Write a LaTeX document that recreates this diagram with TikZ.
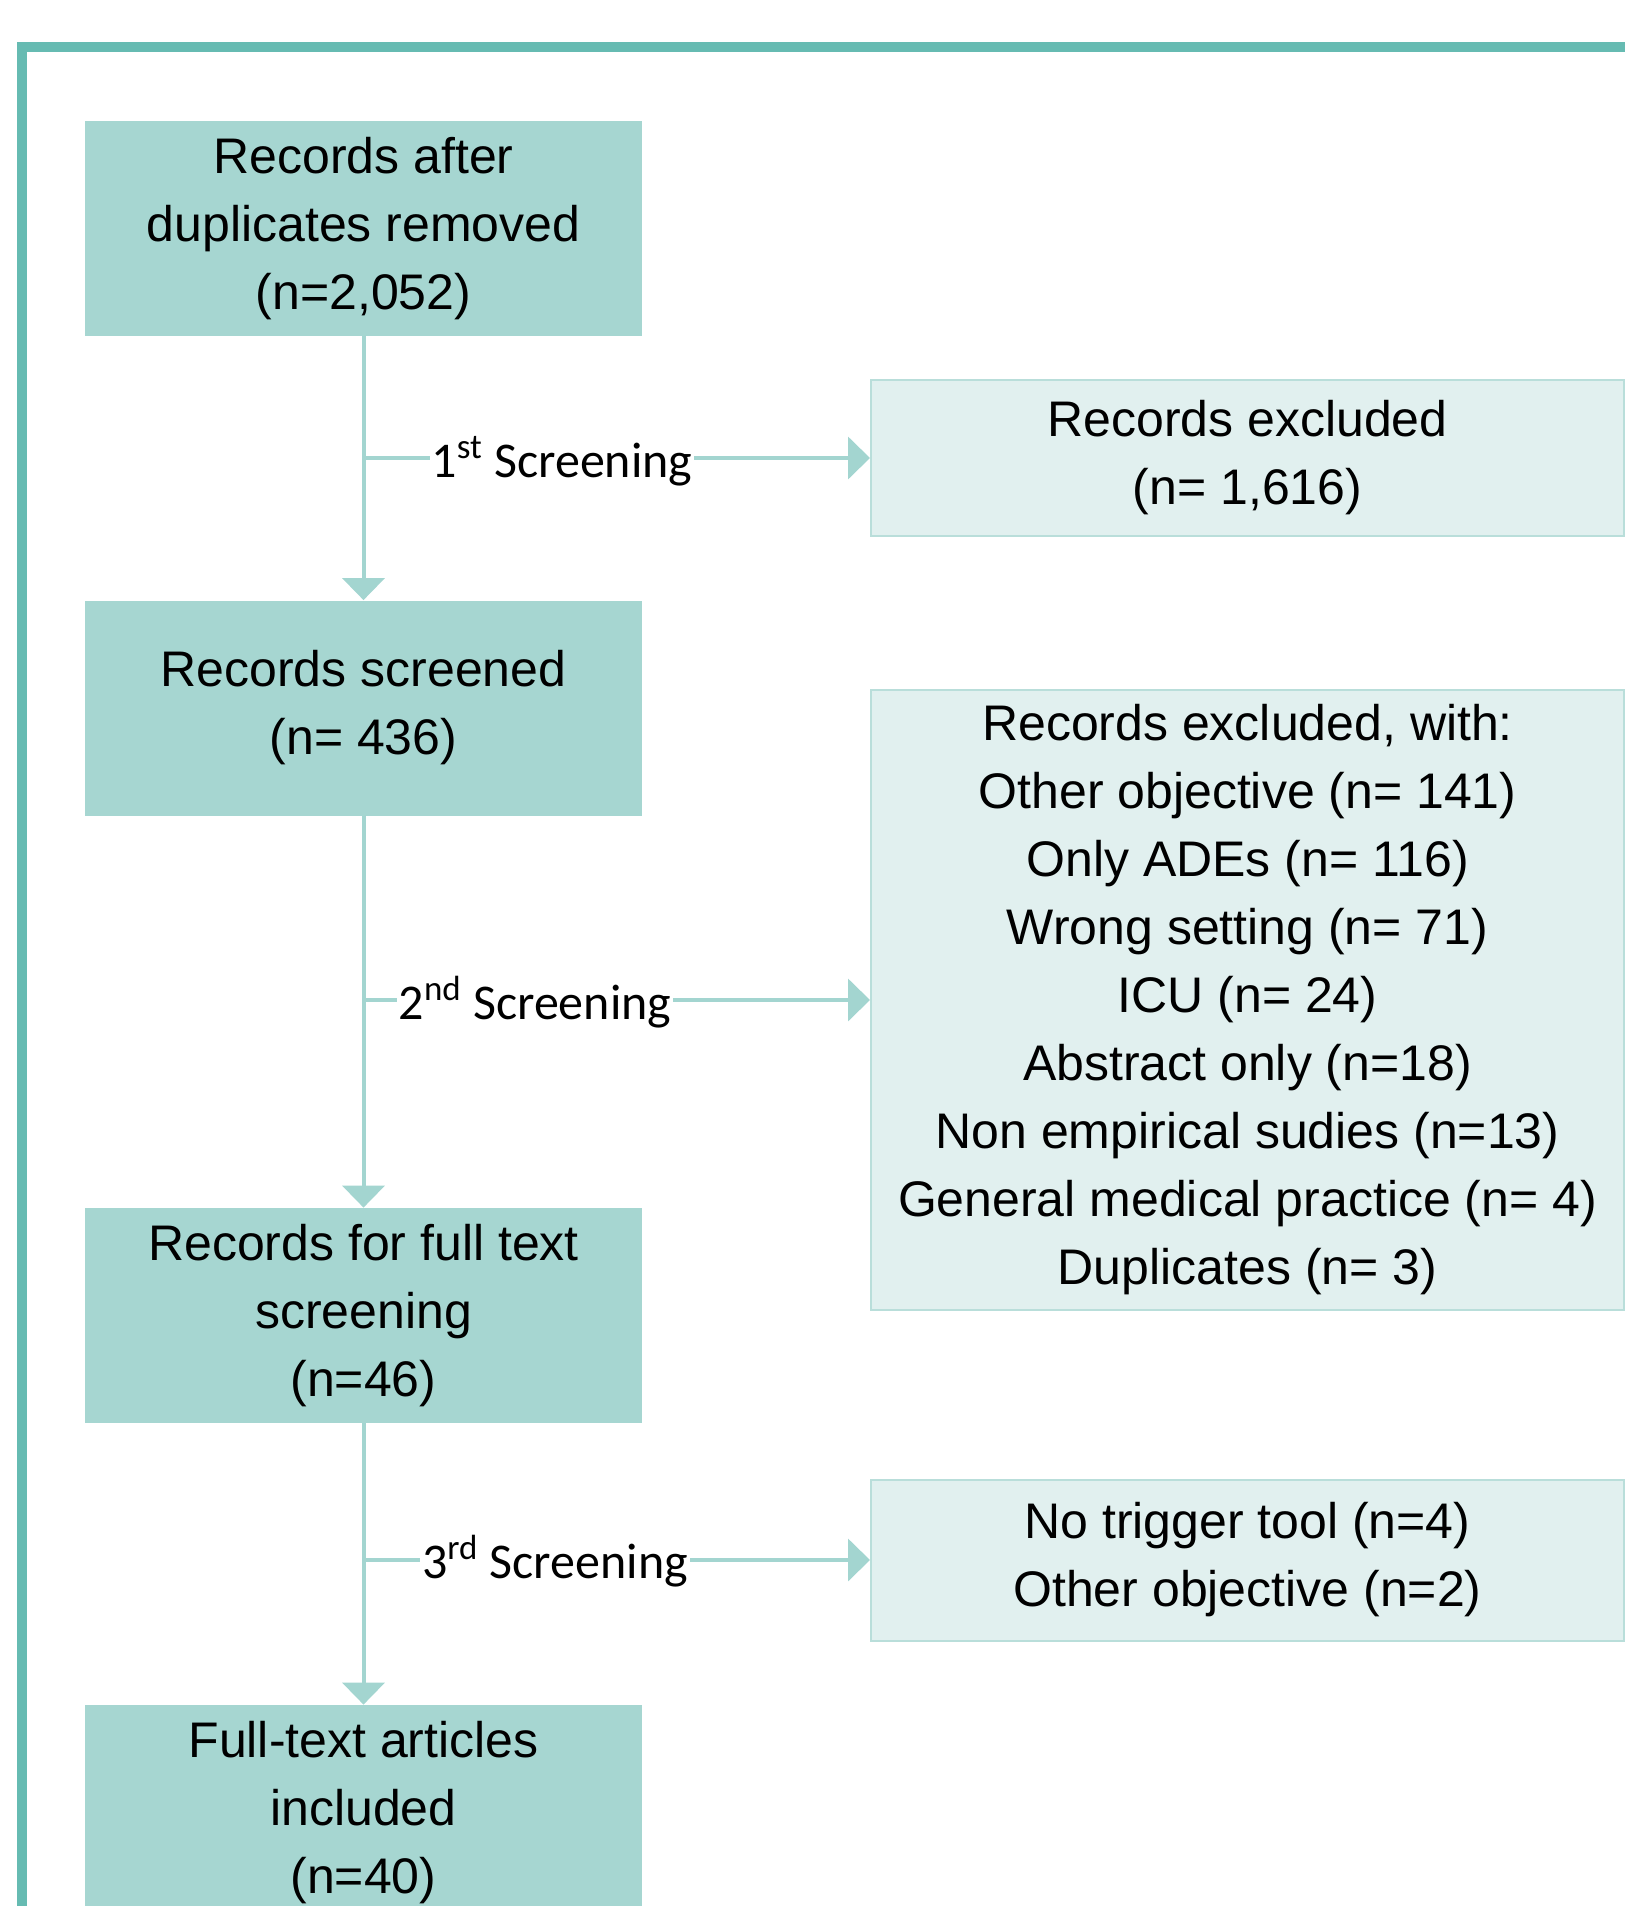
\documentclass[tikz,border=0pt]{standalone}
\usepackage{fontspec}
\setmainfont{Liberation Sans}
\newfontfamily\labfont{Carlito}
\usetikzlibrary{arrows.meta}
\definecolor{frameC}{HTML}{66BBB2}
\definecolor{darkbox}{HTML}{A6D6D1}
\definecolor{lightbox}{HTML}{E1F0EF}
\definecolor{lightborder}{HTML}{B9DEDA}
\definecolor{arrowC}{HTML}{A3D5D0}
\begin{document}
\begin{tikzpicture}[x=0.5pt,y=-0.5pt,
  mainbox/.style={fill=darkbox, draw=none, minimum width=278.5pt, minimum height=107.5pt,
    align=center, font=\fontsize{25}{34}\selectfont, inner sep=0pt},
  sidebox/.style={fill=lightbox, draw=lightborder, line width=1pt, minimum width=376.5pt,
    align=center, font=\fontsize{25}{34}\selectfont, inner sep=0pt},
  flowline/.style={draw=arrowC, line width=2pt},
  flowarrow/.style={flowline, -{Triangle[width=21pt,length=11pt]}},
  screenlab/.style={fill=white, inner xsep=1pt, inner ysep=2pt, anchor=base,
    font=\labfont\fontsize{25}{30}\selectfont}
]
\useasboundingbox (0,0) rectangle (1625,1906);
\clip (0,0) rectangle (1625,1906);
\fill[white] (0,0) rectangle (1625,1906);
% frame
\draw[frameC, line width=5pt] (22,2300) -- (22,47) -- (1900,47);

% main boxes
\node[mainbox] (b1) at (363.5,228.5) {Records after\\duplicates removed\\(n=2,052)};
\node[mainbox] (b2) at (363.5,708) {Records screened\\(n= 436)};
\node[mainbox] (b3) at (363.5,1315.5) {Records for full text\\screening\\(n=46)};
\node[mainbox] (b4) at (363.5,1812.5) {Full-text articles\\included\\(n=40)};

% side boxes
\node[sidebox, minimum height=78pt] (r1) at (1247.5,458) {Records excluded\\(n= 1,616)};
\node[sidebox, minimum height=310pt] (r2) at (1247.5,1000) {Records excluded, with:\\Other objective (n= 141)\\Only ADEs (n= 116)\\Wrong setting (n= 71)\\ICU (n= 24)\\Abstract only (n=18)\\Non empirical sudies (n=13)\\General medical practice (n= 4)\\Duplicates (n= 3)};
\node[sidebox, minimum height=80.5pt] (r3) at (1247.5,1560) {No trigger tool (n=4)\\Other objective (n=2)};

% vertical arrows
\draw[flowarrow] (b1.south) -- (b2.north);
\draw[flowarrow] (b2.south) -- (b3.north);
\draw[flowarrow] (b3.south) -- (b4.north);

% branches
\coordinate (j1) at (b1.south |- r1.west);
\coordinate (j2) at (b2.south |- r2.west);
\coordinate (j3) at (b3.south |- r3.west);
\draw[flowarrow] (j1) -- (r1.west);
\draw[flowarrow] (j2) -- (r2.west);
\draw[flowarrow] (j3) -- (r3.west);

\node[screenlab] (l1) at (562,477) {1\textsuperscript{st} Screening};
\node[screenlab] (l2) at (535,1019) {2\textsuperscript{nd} Screening};
\node[screenlab] (l3) at (555,1578) {3\textsuperscript{rd} Screening};
\end{tikzpicture}
\end{document}
